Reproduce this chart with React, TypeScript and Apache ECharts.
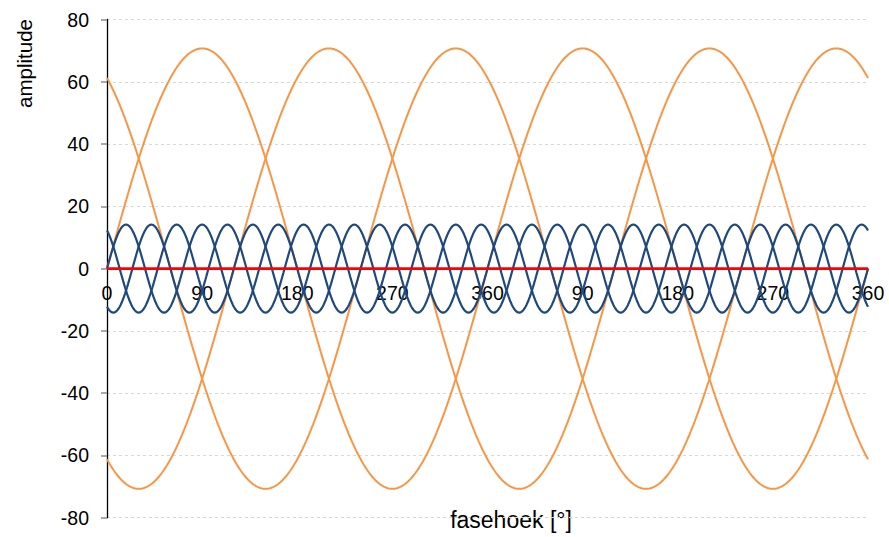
import React, { useEffect, useRef } from "react";
import * as echarts from "echarts";

// x-axis tick positions (degrees over two periods) and their shown labels
const xTicks = [0, 90, 180, 270, 360, 450, 540, 630, 720];
const xTickLabels = ["0", "90", "180", "270", "360", "90", "180", "270", "360"];
const yTicks = [-80, -60, -40, -20, 0, 20, 40, 60, 80];

// Curve parameters
const seriesNames = ["L1", "L2", "L3", "L1 h5", "L2 h5", "L3 h5"];
const harmonicOrder = [1, 1, 1, 5, 5, 5];
const amplitudes = [70.71, 70.71, 70.71, 14.14, 14.14, 14.14];
const phaseDeg = [0, -120, 120, 0, -120, 120];
const seriesColors = ["#F79646", "#F79646", "#F79646", "#1F497D", "#1F497D", "#1F497D"];
const sumName = "som";

const xMin = 0;
const xMax = 720;
const stepDeg = 1;

const GRID_TOP = 19.5;
const GRID_BOTTOM = 19.3;
const CHART_H = 537;

export default function App() {
  const ref = useRef<HTMLDivElement>(null);

  useEffect(() => {
    if (!ref.current) return;
    const chart = echarts.init(ref.current, null, { renderer: "svg" });

    const angles: number[] = [];
    for (let a = xMin; a <= xMax; a += stepDeg) angles.push(a);

    const curves = seriesNames.map((name, i) => {
      const data = angles.map((a) => {
        const rad = ((harmonicOrder[i] * (a + phaseDeg[i])) * Math.PI) / 180;
        return [a, amplitudes[i] * Math.sin(rad)];
      });
      return {
        name,
        type: "line",
        data,
        showSymbol: false,
        symbol: "none",
        lineStyle: { color: seriesColors[i], width: i < 3 ? 2 : 2.2 },
        z: i < 3 ? 2 : 3,
      };
    });

    const sumData = angles.map((a, k) => {
      let s = 0;
      curves.forEach((c) => (s += (c.data[k] as number[])[1]));
      return [a, Math.abs(s) < 1e-9 ? 0 : s];
    });

    const font = "'Liberation Sans', Arial, sans-serif";
    const yMin = yTicks[0];
    const yMax = yTicks[yTicks.length - 1];
    const plotH = CHART_H - GRID_TOP - GRID_BOTTOM;
    // move the x axis from the bottom of the grid up to y = 0
    const zeroOffset = -plotH * ((0 - yMin) / (yMax - yMin));

    chart.setOption({
      animation: false,
      grid: { left: 107, right: 21, top: GRID_TOP, bottom: GRID_BOTTOM, containLabel: false },
      xAxis: {
        type: "value",
        min: xMin,
        max: xMax,
        interval: 90,
        offset: zeroOffset,
        axisLine: { show: true, onZero: false, lineStyle: { color: "#000", width: 1 } },
        axisTick: { show: false },
        splitLine: { show: false },
        axisLabel: {
          show: true,
          margin: 14,
          fontSize: 19.5,
          fontFamily: font,
          color: "#000",
          showMinLabel: true,
          showMaxLabel: true,
          formatter: (v: number) => {
            const idx = xTicks.indexOf(v);
            return idx >= 0 ? xTickLabels[idx] : "";
          },
        },
      },
      yAxis: {
        type: "value",
        min: yMin,
        max: yMax,
        interval: 20,
        axisLine: { show: true, onZero: false, lineStyle: { color: "#000", width: 1.3 } },
        axisTick: { show: true, length: 6, lineStyle: { color: "#8c8c8c", width: 1.5 } },
        splitLine: { show: true, lineStyle: { color: "#d8d8d8", type: [3, 3], width: 1 } },
        axisLabel: { margin: 18, fontSize: 19.5, fontFamily: font, color: "#000" },
      },
      graphic: [
        {
          type: "text",
          x: 511,
          y: 520,
          style: {
            text: "fasehoek [°]",
            fontSize: 23,
            fontFamily: font,
            fill: "#000",
            textAlign: "center",
            textVerticalAlign: "middle",
          },
        },
        {
          type: "text",
          x: 24,
          y: 19,
          rotation: Math.PI / 2,
          style: {
            text: "amplitude",
            fontSize: 20.5,
            fontFamily: font,
            fill: "#000",
            textAlign: "right",
            textVerticalAlign: "middle",
          },
        },
      ],
      series: [
        ...curves,
        {
          name: sumName,
          type: "line",
          data: sumData,
          showSymbol: false,
          symbol: "none",
          lineStyle: { color: "#FF0000", width: 2.8 },
          z: 4,
        },
      ],
    });

    return () => chart.dispose();
  }, []);

  return (
    <div
      ref={ref}
      style={{ position: "absolute", left: 0, top: 0, width: 889, height: 537 }}
    />
  );
}
